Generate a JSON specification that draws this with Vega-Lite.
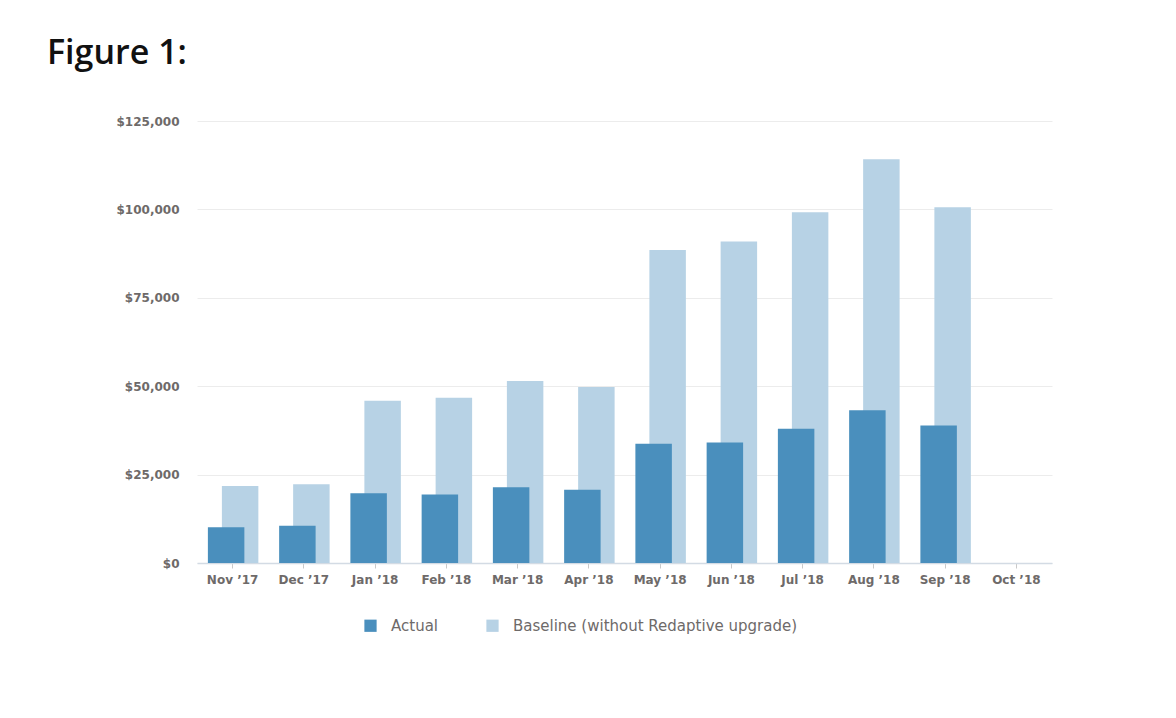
{
  "$schema": "https://vega.github.io/schema/vega-lite/v6.json",
  "width": 855,
  "height": 442,
  "autosize": "none",
  "padding": {"left": 197, "top": 121, "right": 124, "bottom": 155},
  "background": "#ffffff",
  "title": {
    "text": "Figure 1:",
    "anchor": "start",
    "frame": "group",
    "dx": -150,
    "offset": 17,
    "baseline": "alphabetic",
    "font": "Open Sans",
    "fontSize": 34,
    "fontWeight": 600,
    "color": "#111111"
  },
  "config": {
    "view": {"stroke": null},
    "axis": {"labelFont": "DejaVu Sans", "labelFontWeight": "bold", "labelColor": "#6e6a69", "labelFontSize": 12}
  },
  "data": {
    "values": [
      {"month": "Nov ’17", "series": "Actual", "value": 10100},
      {"month": "Nov ’17", "series": "Baseline (without Redaptive upgrade)", "value": 21800},
      {"month": "Dec ’17", "series": "Actual", "value": 10500},
      {"month": "Dec ’17", "series": "Baseline (without Redaptive upgrade)", "value": 22300},
      {"month": "Jan ’18", "series": "Actual", "value": 19700},
      {"month": "Jan ’18", "series": "Baseline (without Redaptive upgrade)", "value": 45900},
      {"month": "Feb ’18", "series": "Actual", "value": 19400},
      {"month": "Feb ’18", "series": "Baseline (without Redaptive upgrade)", "value": 46700},
      {"month": "Mar ’18", "series": "Actual", "value": 21400},
      {"month": "Mar ’18", "series": "Baseline (without Redaptive upgrade)", "value": 51500},
      {"month": "Apr ’18", "series": "Actual", "value": 20700},
      {"month": "Apr ’18", "series": "Baseline (without Redaptive upgrade)", "value": 49800},
      {"month": "May ’18", "series": "Actual", "value": 33700},
      {"month": "May ’18", "series": "Baseline (without Redaptive upgrade)", "value": 88500},
      {"month": "Jun ’18", "series": "Actual", "value": 34100},
      {"month": "Jun ’18", "series": "Baseline (without Redaptive upgrade)", "value": 90900},
      {"month": "Jul ’18", "series": "Actual", "value": 38000},
      {"month": "Jul ’18", "series": "Baseline (without Redaptive upgrade)", "value": 99200},
      {"month": "Aug ’18", "series": "Actual", "value": 43200},
      {"month": "Aug ’18", "series": "Baseline (without Redaptive upgrade)", "value": 114200},
      {"month": "Sep ’18", "series": "Actual", "value": 38900},
      {"month": "Sep ’18", "series": "Baseline (without Redaptive upgrade)", "value": 100600}
    ]
  },
  "encoding": {
    "x": {
      "field": "month",
      "type": "ordinal",
      "title": null,
      "scale": {
        "domain": ["Nov ’17", "Dec ’17", "Jan ’18", "Feb ’18", "Mar ’18", "Apr ’18", "May ’18", "Jun ’18", "Jul ’18", "Aug ’18", "Sep ’18", "Oct ’18"],
        "paddingInner": 0,
        "paddingOuter": 0
      },
      "axis": {
        "labelAngle": 0,
        "domainColor": "#d3dbe4",
        "domainWidth": 1.5,
        "tickColor": "#c9c9c9",
        "tickSize": 5,
        "labelPadding": 6,
        "grid": false
      }
    },
    "y": {
      "field": "value",
      "type": "quantitative",
      "title": null,
      "scale": {"domain": [0, 125000], "nice": false},
      "axis": {
        "values": [0, 25000, 50000, 75000, 100000, 125000],
        "format": "$,.0f",
        "domain": false,
        "ticks": false,
        "labelPadding": 18,
        "gridColor": "#ececec",
        "gridWidth": 1
      }
    },
    "color": {
      "field": "series",
      "type": "nominal",
      "scale": {
        "domain": ["Actual", "Baseline (without Redaptive upgrade)"],
        "range": ["#4a8fbd", "#b7d2e5"]
      },
      "legend": {
        "title": null,
        "orient": "none",
        "legendX": 166,
        "legendY": 497,
        "direction": "horizontal",
        "symbolType": "square",
        "symbolSize": 150,
        "symbolStrokeWidth": 0,
        "labelOffset": 13,
        "columnPadding": 47,
        "labelFont": "DejaVu Sans",
        "labelFontSize": 15,
        "labelColor": "#6e6a69",
        "labelLimit": 400
      }
    }
  },
  "layer": [
    {
      "transform": [{"filter": "datum.series === 'Baseline (without Redaptive upgrade)'"}],
      "mark": {"type": "bar", "xOffset": 7.5, "width": {"band": 0.512}}
    },
    {
      "transform": [{"filter": "datum.series === 'Actual'"}],
      "mark": {"type": "bar", "xOffset": -6.5, "width": {"band": 0.512}}
    }
  ]
}
